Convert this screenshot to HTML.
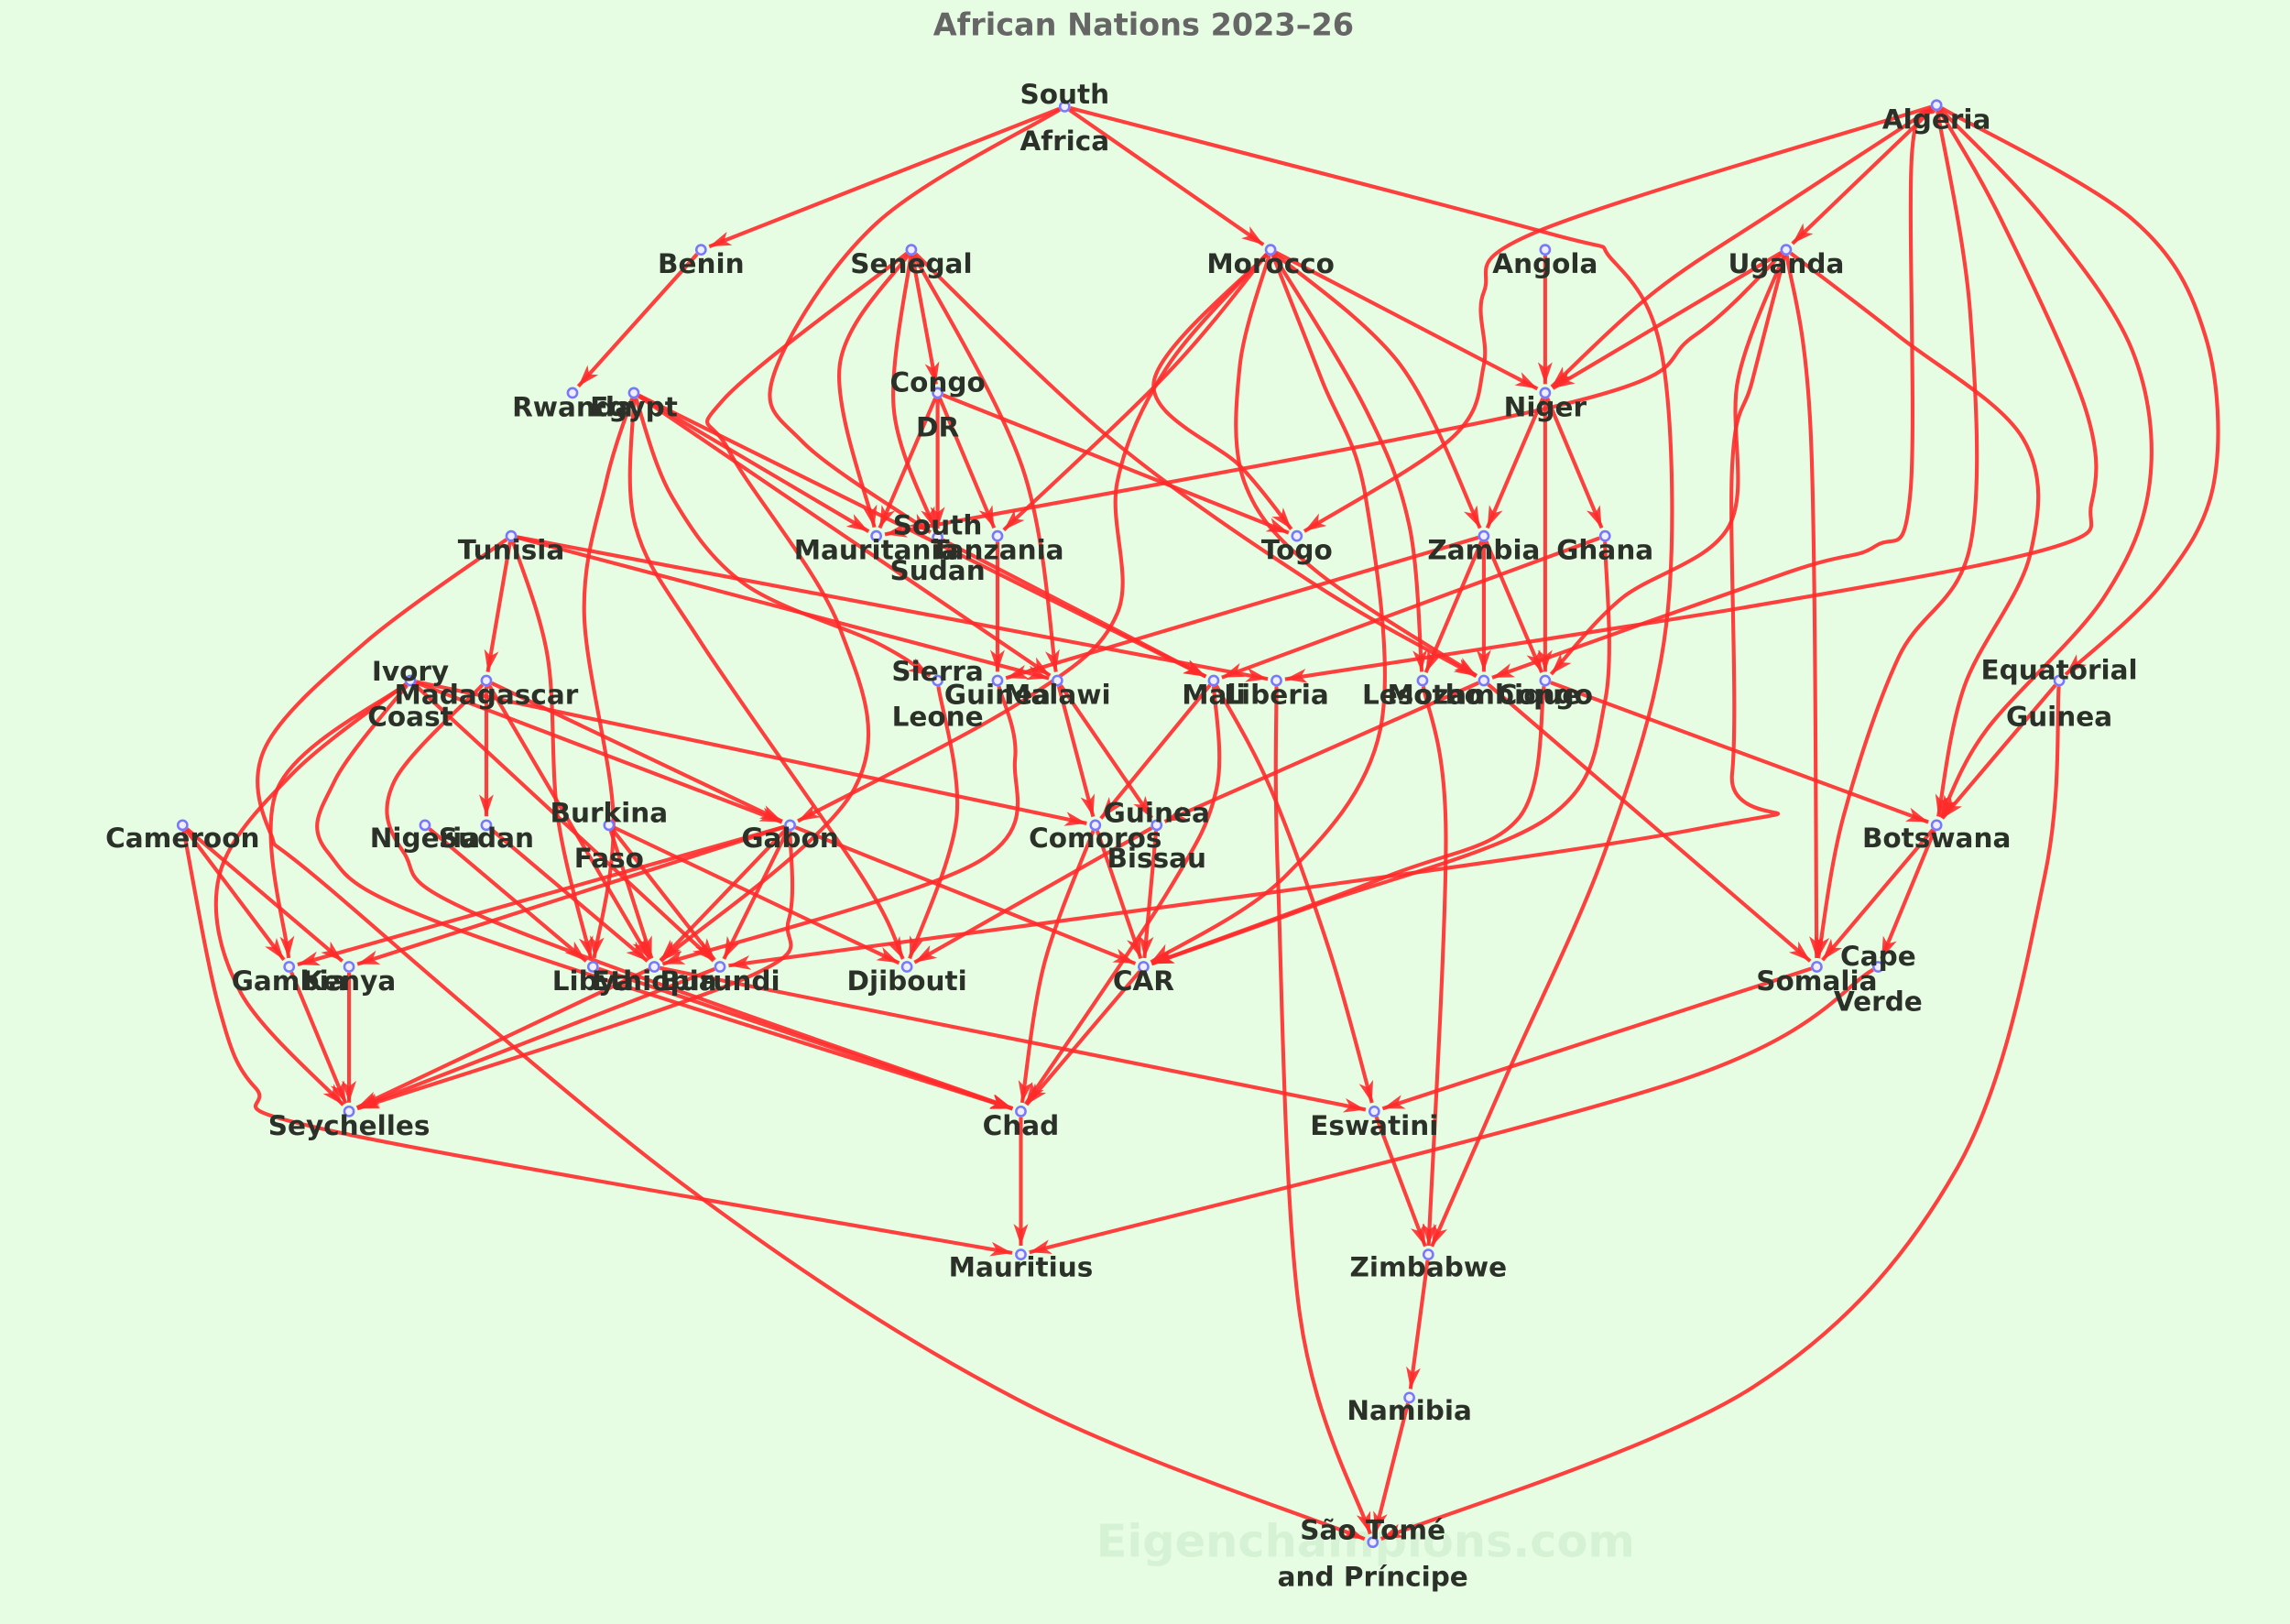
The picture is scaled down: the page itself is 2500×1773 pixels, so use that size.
<!DOCTYPE html>
<html><head><meta charset="utf-8"><style>
html,body{margin:0;padding:0;background:#e6fde3;}
svg{display:block}
text{font-family:"DejaVu Sans","Liberation Sans",sans-serif;font-weight:bold;}
.l{font-size:18.5px;fill:#2b3129;text-anchor:middle;}
</style></head><body>
<svg id="s" width="2500" height="1773" viewBox="0 0 1568 1112" preserveAspectRatio="none" xmlns="http://www.w3.org/2000/svg">
<defs><marker id="a" markerUnits="userSpaceOnUse" markerWidth="18" markerHeight="12" refX="15" refY="5" orient="auto"><path d="M0,0 L15,5 L0,10 L4,5 z" fill="#ff2a2a" fill-opacity="0.9"/></marker></defs>
<rect width="1568" height="1112" fill="#e6fde3"/>
<text x="783" y="24" style="font-size:21px;fill:#666;text-anchor:middle">African Nations 2023–26</text>
<text x="935" y="1066" style="font-size:31px;fill:#d6f2d4;text-anchor:middle">Eigenchampions.com</text>
<g id="edges" fill="none" stroke="#ff2a2a" stroke-opacity="0.9" stroke-width="2.6"></g>
<g id="nodes" fill="#eef" stroke="#7777ff" stroke-width="1.6"></g>
<g class="labels">
<text class="l" x="729" y="71">South</text><text class="l" x="729" y="103">Africa</text>
<text class="l" x="1326" y="88">Algeria</text>
<text class="l" x="480" y="187">Benin</text>
<text class="l" x="624" y="187">Senegal</text>
<text class="l" x="870" y="187">Morocco</text>
<text class="l" x="1058" y="187">Angola</text>
<text class="l" x="1223" y="187">Uganda</text>
<text class="l" x="392" y="285">Rwanda</text>
<text class="l" x="434" y="285">Egypt</text>
<text class="l" x="642" y="268">Congo</text><text class="l" x="642" y="299">DR</text>
<text class="l" x="1058" y="285">Niger</text>
<text class="l" x="350" y="383">Tunisia</text>
<text class="l" x="600" y="383">Mauritania</text>
<text class="l" x="642" y="366">South</text><text class="l" x="642" y="397">Sudan</text>
<text class="l" x="683" y="383">Tanzania</text>
<text class="l" x="888" y="383">Togo</text>
<text class="l" x="1016" y="383">Zambia</text>
<text class="l" x="1099" y="383">Ghana</text>
<text class="l" x="281" y="466">Ivory</text><text class="l" x="281" y="497">Coast</text>
<text class="l" x="333" y="482">Madagascar</text>
<text class="l" x="642" y="466">Sierra</text><text class="l" x="642" y="497">Leone</text>
<text class="l" x="683" y="482">Guinea</text>
<text class="l" x="724" y="482">Malawi</text>
<text class="l" x="831" y="482">Mali</text>
<text class="l" x="874" y="482">Liberia</text>
<text class="l" x="974" y="482">Lesotho</text>
<text class="l" x="1016" y="482">Mozambique</text>
<text class="l" x="1058" y="482">Congo</text>
<text class="l" x="1410" y="465">Equatorial</text><text class="l" x="1410" y="497">Guinea</text>
<text class="l" x="125" y="580">Cameroon</text>
<text class="l" x="291" y="580">Nigeria</text>
<text class="l" x="333" y="580">Sudan</text>
<text class="l" x="417" y="563">Burkina</text><text class="l" x="417" y="594">Faso</text>
<text class="l" x="541" y="580">Gabon</text>
<text class="l" x="750" y="580">Comoros</text>
<text class="l" x="792" y="563">Guinea</text><text class="l" x="792" y="594">Bissau</text>
<text class="l" x="1326" y="580">Botswana</text>
<text class="l" x="198" y="678">Gambia</text>
<text class="l" x="239" y="678">Kenya</text>
<text class="l" x="406" y="678">Libya</text>
<text class="l" x="448" y="678">Ethiopia</text>
<text class="l" x="493" y="678">Burundi</text>
<text class="l" x="621" y="678">Djibouti</text>
<text class="l" x="783" y="678">CAR</text>
<text class="l" x="1244" y="678">Somalia</text>
<text class="l" x="1286" y="661">Cape</text><text class="l" x="1286" y="692">Verde</text>
<text class="l" x="239" y="777">Seychelles</text>
<text class="l" x="699" y="777">Chad</text>
<text class="l" x="941" y="777">Eswatini</text>
<text class="l" x="699" y="874">Mauritius</text>
<text class="l" x="978" y="874">Zimbabwe</text>
<text class="l" x="965" y="972">Namibia</text>
<text class="l" x="940" y="1054">São Tomé</text><text class="l" x="940" y="1086">and Príncipe</text>
</g>
</svg>
<script>
var N={SA:[729,73],ALG:[1326,72],BEN:[480,171],SEN:[624,171],MOR:[870,171],ANG:[1058,171],UGA:[1223,171],RWA:[392,269],EGY:[434,269],CDR:[642,269],NIG:[1058,269],TUN:[350,367],MAU:[600,367],SSD:[642,368],TAN:[683,367],TOG:[888,367],ZAM:[1016,367],GHA:[1099,367],IVC:[281,466],MAD:[333,466],SLE:[642,466],GUI:[683,466],MWI:[724,466],MLI:[831,466],LBR:[874,466],LES:[974,466],MOZ:[1016,466],CON:[1058,466],EQG:[1410,466],CMR:[125,565],NGA:[291,565],SDN:[333,565],BFA:[417,565],GAB:[541,565],COM:[750,565],GNB:[792,565],BWA:[1326,565],GMB:[198,662],KEN:[239,662],LBY:[406,662],ETH:[448,662],BDI:[493,662],DJI:[621,662],CAR:[783,662],SOM:[1244,662],CPV:[1286,662],SYC:[239,761],TCD:[699,761],SWZ:[941,761],MUS:[699,859],ZWE:[978,859],NAM:[965,957],STP:[940,1056]};
var E=[
["SA","BEN"],["SA","MOR"],["SA","SSD",[[600,153],[530,256],[550,303]]],["SA","ZWE",[[1054,158],[1104,178],[1139,249],[1141,427],[1100,580],[1030,740]]],
["BEN","RWA"],
["SEN","CDR"],["SEN","MAU",[[575,250]]],["SEN","SSD",[[612,280]]],["SEN","MWI",[[700,320]]],["SEN","MOZ",[[760,300],[900,400]]],["SEN","ETH",[[495,274],[500,310],[575,430],[585,540]]],
["MOR","NIG"],["MOR","TOG",[[790,262],[850,320]]],["MOR","ZAM",[[959,250]]],["MOR","LES",[[935,280],[965,360]]],["MOR","MOZ",[[849,250],[852,330],[900,390]]],["MOR","TAN",[[800,255]]],["MOR","GAB",[[800,250],[765,330],[765,420],[700,480]]],["MOR","CAR",[[905,260],[935,340],[945,500],[880,600]]],
["ANG","NIG"],
["ALG","UGA"],["ALG","NIG",[[1219,142],[1134,199]]],["ALG","TOG",[[1054,158],[1016,200],[1016,250],[994,300]]],["ALG","MOZ",[[1309,107],[1308,338],[1284,374],[1224,392]]],["ALG","LBR",[[1370,150],[1428,280],[1432,345],[1405,375],[1200,415]]],["ALG","SOM",[[1349,214],[1349,374],[1300,450],[1262,560]]],["ALG","BWA",[[1400,150],[1460,240],[1472,330],[1440,410],[1360,500]]],["ALG","EQG",[[1460,150],[1510,230],[1516,330],[1480,400]]],
["UGA","NIG"],["UGA","MAU",[[1160,230],[1070,277]]],["UGA","SOM",[[1240,300]]],["UGA","BWA",[[1300,230],[1385,300],[1390,380],[1345,470]]],["UGA","CON",[[1190,260],[1184,360],[1110,410]]],["UGA","BDI",[[1200,260],[1186,320],[1186,530],[1160,568]]],
["EGY","MAU"],["EGY","MWI"],["EGY","SLE",[[460,340],[510,400],[600,440]]],["EGY","LBY",[[415,330],[400,420],[420,560]]],["EGY","DJI",[[435,360],[480,440],[590,600]]],["EGY","MLI"],
["CDR","MAU"],["CDR","SSD"],["CDR","TAN"],["CDR","TOG"],
["NIG","ZAM"],["NIG","GHA"],["NIG","CON"],
["TUN","MAD"],["TUN","LBY",[[375,450],[382,560]]],["TUN","MWI"],["TUN","LBR"],["TUN","STP",[[250,440],[182,511],[185,570],[224,607],[473,815],[700,960]]],
["TAN","GUI"],["SSD","MLI"],
["ZAM","LES"],["ZAM","MOZ"],["ZAM","CON"],["ZAM","GUI"],
["GHA","MLI"],["GHA","CAR",[[1099,480],[1060,560],[900,620]]],
["IVC","SYC",[[200,530],[150,600],[165,680]]],["IVC","GMB",[[190,540]]],["IVC","COM"],["IVC","GAB"],["IVC","BDI"],["IVC","TCD",[[229,535],[224,583],[312,636]]],
["MAD","TCD",[[270,535],[276,583],[338,631]]],["MAD","SDN"],["MAD","GAB"],["MAD","ETH"],
["SLE","DJI",[[655,560]]],["GUI","ETH",[[695,520],[670,590]]],["MWI","COM"],["MWI","GNB"],
["MLI","COM"],["MLI","TCD",[[833,540],[800,610]]],["MLI","SWZ",[[870,540],[910,650]]],["LBR","STP",[[875,600],[890,900]]],
["LES","ZWE",[[990,570]]],["MOZ","SOM"],["CON","BWA"],["MOZ","GNB"],["CON","CAR",[[1040,560],[950,600]]],
["EQG","BWA"],["EQG","STP",[[1400,600],[1340,800],[1200,950]]],
["CMR","GMB"],["CMR","KEN"],["CMR","MUS",[[150,690],[175,745],[230,775]]],
["NGA","LBY"],["SDN","ETH"],["BFA","ETH"],["BFA","BDI"],["BFA","DJI"],
["GAB","GMB"],["GAB","KEN"],["GAB","ETH"],["GAB","BDI"],["GAB","SYC",[[540,630],[510,670]]],["GAB","CAR"],
["COM","TCD",[[715,660]]],["COM","CAR"],["GNB","DJI"],["GNB","CAR"],["CAR","TCD"],
["BWA","SOM"],["BWA","CPV"],
["GMB","SYC"],["KEN","SYC"],["BDI","SYC"],["ETH","SYC"],["LBY","TCD"],["ETH","SWZ"],
["TCD","MUS"],["SOM","SWZ"],["CPV","MUS",[[1150,740]]],["SWZ","ZWE"],["ZWE","NAM"],["NAM","STP"]
];
var g=document.getElementById('edges'),ns="http://www.w3.org/2000/svg";
function f(v){return v.toFixed(1);}
E.forEach(function(e){
 var p=[N[e[0]].slice()].concat(e[2]||[]).concat([N[e[1]].slice()]);
 var s=p[0],t=p[p.length-1],pr=p[p.length-2];
 var dx=t[0]-pr[0],dy=t[1]-pr[1],L=Math.hypot(dx,dy);
 t[0]-=dx/L*6;t[1]-=dy/L*6;
 dx=p[1][0]-s[0];dy=p[1][1]-s[1];L=Math.hypot(dx,dy);
 s[0]+=dx/L*4;s[1]+=dy/L*4;
 var d="M"+f(p[0][0])+","+f(p[0][1]);
 if(p.length==2){d+=" L"+f(t[0])+","+f(t[1]);}
 else{
  for(var i=0;i<p.length-1;i++){
   var p0=p[i-1]||p[i],p1=p[i],p2=p[i+1],p3=p[i+2]||p[i+1];
   var c1=[p1[0]+(p2[0]-p0[0])/6,p1[1]+(p2[1]-p0[1])/6],c2=[p2[0]-(p3[0]-p1[0])/6,p2[1]-(p3[1]-p1[1])/6];
   d+=" C"+f(c1[0])+","+f(c1[1])+" "+f(c2[0])+","+f(c2[1])+" "+f(p2[0])+","+f(p2[1]);
  }
 }
 var el=document.createElementNS(ns,"path");el.setAttribute("d",d);el.setAttribute("marker-end","url(#a)");g.appendChild(el);
});
var gn=document.getElementById('nodes');
for(var k in N){var c=document.createElementNS(ns,"circle");c.setAttribute("cx",N[k][0]);c.setAttribute("cy",N[k][1]);c.setAttribute("r",3.2);gn.appendChild(c);}
</script>
</body></html>
